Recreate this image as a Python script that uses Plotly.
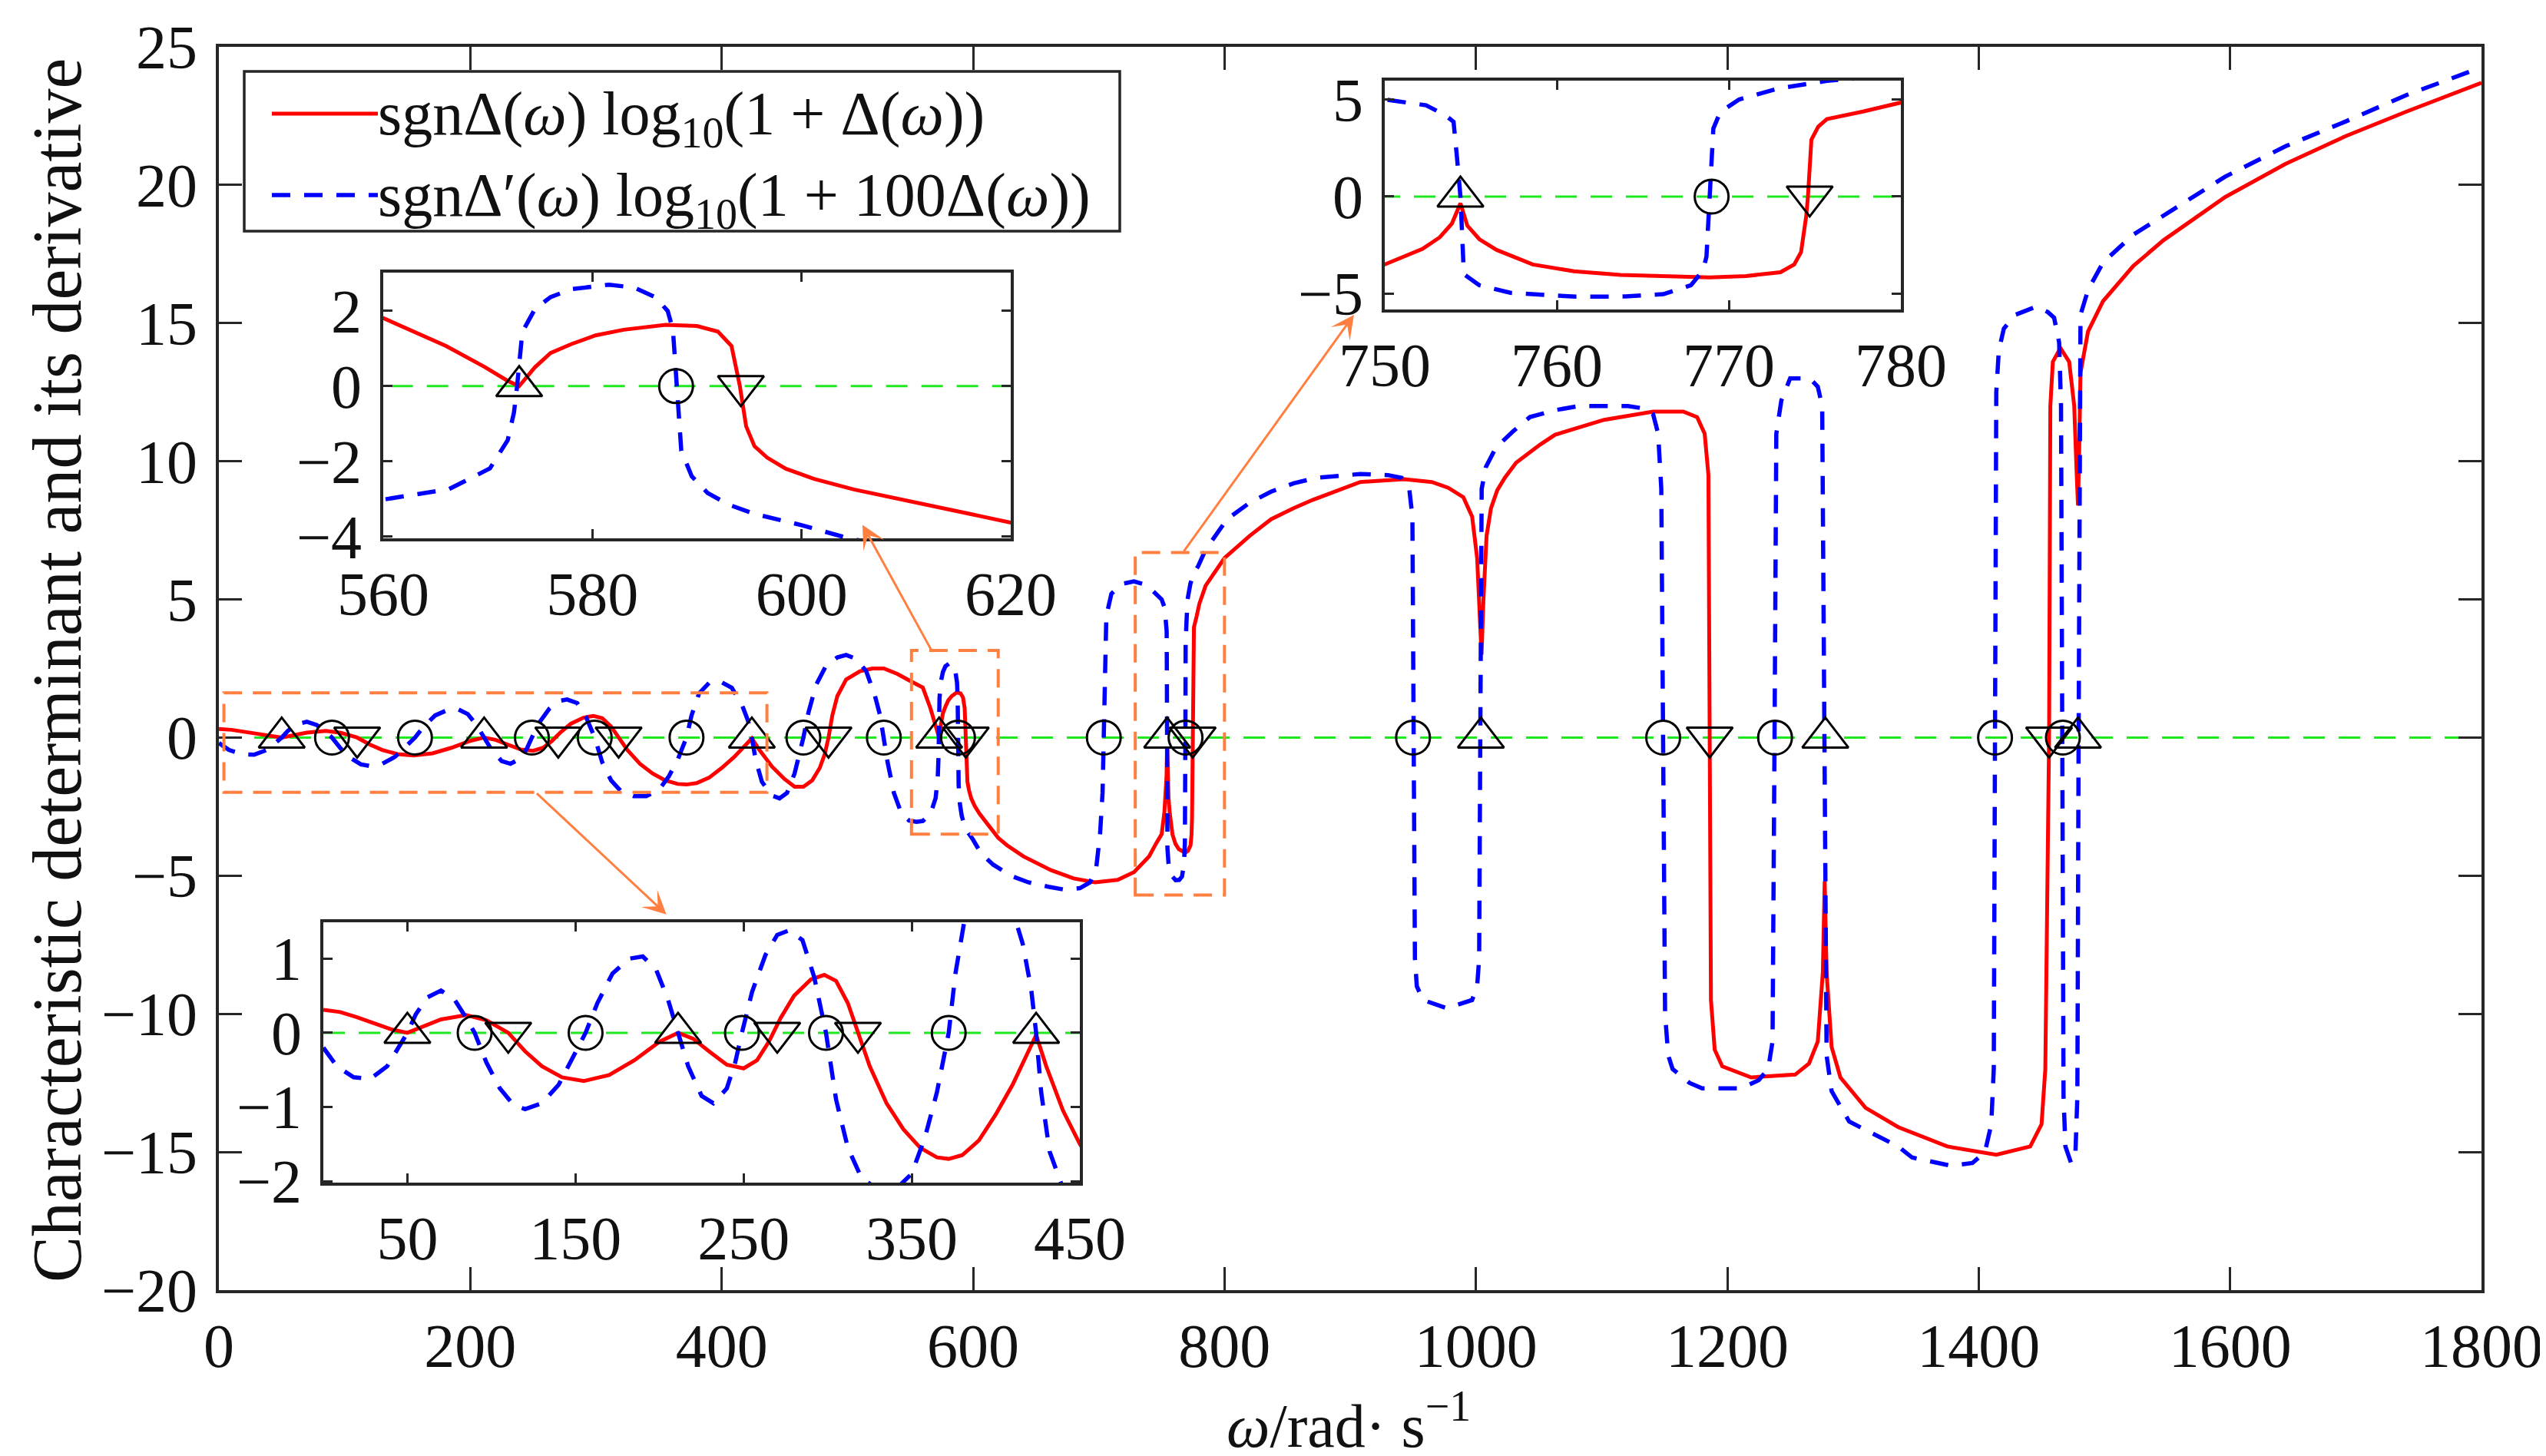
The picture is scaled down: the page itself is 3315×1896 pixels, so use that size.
import plotly.graph_objects as go

# red solid: sgn(Delta) log10(1 + Delta)
red_w = [0, 10, 20, 30, 40, 50, 60, 70, 85, 97,
         110, 120, 130, 142, 155, 170, 185, 200, 211, 220,
         230, 240, 250, 258, 265, 272, 280, 290, 298, 305,
         312, 318, 325, 335, 345, 355, 365, 372, 380, 390,
         400, 410, 418, 424, 430, 440, 450, 458, 465, 472,
         478, 482, 485, 488, 492, 499, 510, 520, 529, 540,
         550, 560, 566, 569.7, 571.9, 573, 574.5, 576, 578, 580.3,
         583, 587, 590, 592, 593.3, 594.1, 594.7, 595.5, 596.7, 598.5,
         601.2, 605, 609.6, 615, 620, 627, 640, 662, 680, 697,
         715, 728, 740, 746, 750, 752.2, 753.2, 753.9, 754.4, 754.8,
         755.5, 756.5, 758.6, 761, 763.7, 768.9, 771, 773, 773.8, 774.2,
         774.5, 774.6, 774.8, 775.2, 775.7, 777.8, 780, 785, 800, 820,
         837, 855, 870, 908, 943, 965, 978, 990, 997, 1001,
         1003, 1004.5, 1006, 1008.5, 1012, 1017, 1023, 1032, 1051, 1063,
         1102, 1141, 1165, 1176, 1182, 1185, 1186, 1187, 1190, 1196,
         1219, 1254, 1265, 1272, 1276, 1277.5, 1279, 1283, 1290, 1310,
         1336, 1375, 1414, 1441, 1450, 1453, 1456, 1457, 1459, 1465,
         1472, 1476, 1478, 1479, 1480, 1481, 1487, 1499, 1523, 1547,
         1596, 1644, 1692, 1740, 1800]
red_v = [0.31, 0.28, 0.21, 0.13, 0.05, 0.0, 0.09, 0.18, 0.24, 0.17,
         0.0, -0.25, -0.45, -0.6, -0.65, -0.57, -0.37, -0.12, 0.0, -0.08,
         -0.26, -0.43, -0.48, -0.37, -0.12, 0.2, 0.5, 0.72, 0.78, 0.7,
         0.4, 0.0, -0.45, -0.95, -1.3, -1.55, -1.68, -1.7, -1.65, -1.45,
         -1.1, -0.7, -0.3, -0.03, -0.45, -1.05, -1.5, -1.78, -1.78, -1.55,
         -1.1, -0.6, 0.0, 0.8, 1.5, 2.1, 2.4, 2.5, 2.5, 2.3,
         2.05, 1.81, 1.07, 0.51, 0.14, 0.0, 0.5, 0.88, 1.12, 1.35,
         1.5, 1.63, 1.6, 1.45, 1.07, 0.0, -1.07, -1.6, -1.9, -2.2,
         -2.47, -2.75, -3.02, -3.33, -3.63, -3.9, -4.3, -4.8, -5.1, -5.24,
         -5.15, -4.87, -4.3, -3.8, -3.5, -2.7, -2.1, -1.4, -0.35, -1.5,
         -2.2, -2.75, -3.5, -3.85, -4.04, -4.17, -4.1, -3.9, -3.5, -2.86,
         -1.0, 0.0, 2.93, 3.6, 3.99, 4.38, 4.84, 5.5, 6.5, 7.3,
         7.9, 8.3, 8.6, 9.25, 9.35, 9.25, 9.04, 8.7, 8.0, 6.5,
         4.5, 3.0, 5.0, 7.3, 8.3, 8.95, 9.4, 9.95, 10.6, 10.96,
         11.5, 11.8, 11.8, 11.6, 11.0, 9.5, 0.0, -9.5, -11.3, -11.9,
         -12.3, -12.2, -11.8, -11.0, -8.5, -5.2, -8.5, -11.2, -12.3, -13.4,
         -14.1, -14.8, -15.1, -14.8, -14.0, -12.0, 0.0, 12.0, 13.6, 14.1,
         13.6, 12.0, 9.5, 8.4, 10.5, 13.2, 14.7, 15.8, 17.07, 18.0,
         19.56, 20.76, 21.77, 22.65, 23.7]

# blue dashed: sgn(Delta') log10(1 + 100 Delta)
blue_w = [0, 8, 18, 28, 38, 45, 50, 55, 62, 70,
          78, 85, 90, 97, 105, 113, 120, 130, 140, 148,
          156, 163, 172, 182, 190, 198, 205, 211, 217, 225,
          232, 240, 245, 249, 255, 263, 270, 277, 285, 292,
          299, 305, 312, 320, 330, 340, 350, 358, 365, 372,
          376, 382, 390, 398, 408, 416, 421, 424, 427, 432,
          440, 446, 452, 458, 462, 465, 469, 475, 483, 492,
          499, 507, 515, 522, 526, 529, 532, 537, 543, 549,
          555, 560, 566.3, 570.2, 571.9, 572.5, 572.8, 573.3, 574.5, 576,
          578, 581.6, 584, 586, 587.2, 587.7, 588.1, 588.5, 589.5, 591,
          593, 595.5, 600, 604.5, 610, 616, 630, 644, 660, 672,
          685, 693, 698, 701, 703, 704, 705, 706, 710, 718,
          728, 735, 742, 750, 752.4, 753.5, 754, 754.2, 754.4, 754.6,
          755.5, 757.3, 761.1, 764, 766.2, 767.8, 768.5, 768.7, 768.9, 769.1,
          769.5, 770.6, 772.9, 775.7, 779, 785, 802, 820, 837, 855,
          873, 908, 930, 941, 947, 949.5, 950.5, 951.5, 953, 958,
          977, 997, 1001, 1002.6, 1003.5, 1004.6, 1008, 1016, 1030, 1043,
          1063, 1082, 1121, 1135, 1141, 1145, 1147.5, 1149, 1150.5, 1153,
          1156.5, 1170, 1180, 1211, 1225, 1232.5, 1236, 1237.6, 1239, 1243,
          1250, 1265.7, 1272, 1275.5, 1277.4, 1279, 1283, 1297, 1336, 1347,
          1378, 1395, 1405, 1410, 1412, 1413, 1414, 1416, 1420, 1429,
          1446, 1455, 1460, 1464, 1465.5, 1466.5, 1467.5, 1469, 1473.5, 1477,
          1478.5, 1479.5, 1480.5, 1481, 1487, 1499, 1523, 1547, 1596, 1644,
          1692, 1740, 1800]
blue_v = [-0.2, -0.45, -0.6, -0.62, -0.45, -0.2, 0.0, 0.25, 0.48, 0.57,
          0.45, 0.2, 0.0, -0.4, -0.75, -0.97, -1.03, -0.95, -0.7, -0.35,
          0.0, 0.4, 0.8, 1.0, 1.03, 0.85, 0.45, 0.0, -0.45, -0.85,
          -0.95, -0.75, -0.4, 0.0, 0.55, 1.05, 1.32, 1.38, 1.25, 0.75,
          0.0, -0.9, -1.55, -1.95, -2.12, -2.12, -1.9, -1.4, -0.8, 0.0,
          0.8, 1.6, 1.98, 2.05, 1.8, 1.2, 0.6, 0.0, -0.8, -1.6,
          -2.1, -2.2, -2.0, -1.3, -0.6, 0.0, 0.9, 1.9, 2.6, 2.9,
          2.99, 2.85, 2.4, 1.5, 0.8, 0.0, -0.9, -2.0, -2.75, -3.0,
          -3.05, -3.02, -2.74, -2.19, -1.44, -0.7, 0.0, 1.44, 2.05, 2.37,
          2.58, 2.7, 2.62, 2.37, 2.0, 1.5, 0.0, -1.72, -2.4, -2.84,
          -3.15, -3.4, -3.7, -4.05, -4.35, -4.6, -5.0, -5.24, -5.4, -5.5,
          -5.45, -5.24, -4.7, -3.5, -2.0, 0.0, 3.0, 4.4, 5.2, 5.56,
          5.65, 5.56, 5.35, 5.0, 4.7, 4.2, 3.85, 2.0, 0.0, -4.0,
          -4.57, -4.96, -5.16, -5.15, -5.03, -4.57, -3.8, -3.1, 0.0, 3.5,
          4.35, 5.0, 5.57, 5.96, 6.2, 6.8, 7.9, 8.5, 8.9, 9.2,
          9.4, 9.54, 9.5, 9.4, 9.0, 8.0, 0.0, -8.0, -9.0, -9.5,
          -9.8, -9.5, -9.0, -8.0, 0.0, 9.0, 9.8, 10.5, 11.1, 11.6,
          11.85, 12.0, 12.0, 11.9, 11.7, 11.0, 9.0, 0.0, -10.0, -11.5,
          -12.0, -12.5, -12.7, -12.7, -12.4, -12.0, -11.0, 0.0, 11.0, 12.2,
          13.0, 13.0, 12.7, 12.0, 0.0, -11.5, -12.8, -13.9, -14.8, -15.2,
          -15.5, -15.4, -15.0, -14.0, -12.0, 0.0, 12.5, 14.0, 14.8, 15.3,
          15.6, 15.4, 15.2, 14.3, 12.0, 0.0, -13.0, -14.8, -15.4, -15.0,
          -13.0, 0.0, 13.0, 15.3, 16.2, 17.2, 18.2, 18.9, 20.3, 21.4,
          22.3, 23.25, 24.26]

# marked frequencies (all sit on the zero line)
circle_w = [90, 156, 249, 299, 372, 465, 529, 588, 704, 769, 950, 1149, 1238, 1413, 1467]
tri_up_w = [50, 211, 424, 573, 754.4, 1004, 1278, 1479]
tri_down_w = [110, 270, 318, 485, 594.2, 774.7, 1186, 1456]

assert len(red_w) == len(red_v)
assert len(blue_w) == len(blue_v)

W, H = 3315, 1896
FONT = "Liberation Serif"
INK = "#262626"
ORANGE = "#FF7F40"


def dom_x(a, b):
    return [a / W, b / W]


def dom_y(top, bottom):
    return [1 - bottom / H, 1 - top / H]


def axis(domain, rng, tickvals, ticklen, anchor, standoff):
    return dict(domain=domain, range=rng, tickvals=tickvals, anchor=anchor,
                ticks="inside", ticklen=ticklen, tickwidth=3, tickcolor=INK,
                showline=True, linewidth=4, linecolor=INK, mirror="ticks",
                showgrid=False, zeroline=False, fixedrange=True, automargin=False,
                tickfont=dict(family=FONT, size=80, color="#111111"),
                ticklabelstandoff=standoff)


fig = go.Figure()

panels = [("x", "y"), ("x2", "y2"), ("x3", "y3"), ("x4", "y4")]
for xa, ya in panels:
    fig.add_trace(go.Scatter(x=[0, 1800], y=[0, 0], mode="lines", xaxis=xa, yaxis=ya,
                             line=dict(color="#1EE81E", width=3, dash="28px,18px")))
    fig.add_trace(go.Scatter(x=red_w, y=red_v, mode="lines", xaxis=xa, yaxis=ya,
                             line=dict(color="#FF0000", width=5)))
    fig.add_trace(go.Scatter(x=blue_w, y=blue_v, mode="lines", xaxis=xa, yaxis=ya,
                             line=dict(color="#0000FF", width=5.5, dash="24px,18px")))
    for pts, sym, sz in [(circle_w, "circle-open", 44),
                         (tri_up_w, "triangle-up-open", 52),
                         (tri_down_w, "triangle-down-open", 52)]:
        fig.add_trace(go.Scatter(x=pts, y=[0] * len(pts), mode="markers", xaxis=xa, yaxis=ya,
                                 marker=dict(symbol=sym, size=sz, color="black",
                                             line=dict(width=3, color="black"))))

layout_axes = dict(
    xaxis=axis(dom_x(277, 3223), [0, 1800], list(range(0, 1801, 200)), 30, "y", 0),
    yaxis=axis(dom_y(53, 1672), [-20, 25], list(range(-20, 26, 5)), 30, "x", 8),
    xaxis2=axis(dom_x(413, 1398), [0, 450], [50, 150, 250, 350, 450], 12, "y2", 0),
    yaxis2=axis(dom_y(1193, 1532), [-2.02, 1.49], [-2, -1, 0, 1], 12, "x2", 8),
    xaxis3=axis(dom_x(491, 1308), [560, 620], [560, 580, 600, 620], 12, "y3", 0),
    yaxis3=axis(dom_y(347, 693), [-4.05, 3.02], [-4, -2, 0, 2], 12, "x3", 8),
    xaxis4=axis(dom_x(1795, 2467), [750, 780], [750, 760, 770, 780], 12, "y4", 0),
    yaxis4=axis(dom_y(97, 395), [-5.82, 5.97], [-5, 0, 5], 12, "x4", 8),
)

# dashed orange boxes marking the zoomed regions
boxes = [(4, 436, -1.98, 1.62), (551, 620, -3.5, 3.15), (729, 800, -5.7, 6.7)]
shapes = []
for x0, x1, y0, y1 in boxes:
    shapes.append(dict(type="rect", xref="x", yref="y", x0=x0, x1=x1, y0=y0, y1=y1,
                       line=dict(color=ORANGE, width=4, dash="24px,14px"), layer="above"))

# hand-drawn legend
shapes.append(dict(type="rect", xref="paper", yref="paper",
                   x0=310 / W, x1=1450 / W, y0=1 - 293 / H, y1=1 - 85 / H,
                   line=dict(color=INK, width=3.5), fillcolor="white", layer="above"))
shapes.append(dict(type="line", xref="paper", yref="paper",
                   x0=346 / W, x1=484 / W, y0=1 - 140 / H, y1=1 - 140 / H,
                   line=dict(color="#FF0000", width=5), layer="above"))
shapes.append(dict(type="line", xref="paper", yref="paper",
                   x0=346 / W, x1=484 / W, y0=1 - 246 / H, y1=1 - 246 / H,
                   line=dict(color="#0000FF", width=5.5, dash="24px,18px"), layer="above"))

text_font = dict(family=FONT, size=80, color="#111111")
annotations = [
    dict(text="sgnΔ(<i>ω</i>) log<sub>10</sub>(1 + Δ(<i>ω</i>))", xref="paper", yref="paper",
         x=482 / W, y=1 - 146 / H, xanchor="left", yanchor="middle", showarrow=False,
         font=text_font),
    dict(text="sgnΔ′(<i>ω</i>) log<sub>10</sub>(1 + 100Δ(<i>ω</i>))", xref="paper", yref="paper",
         x=482 / W, y=1 - 252 / H, xanchor="left", yanchor="middle", showarrow=False,
         font=text_font),
    dict(text="<i>ω</i>/rad· s<sup>−1</sup>", xref="paper", yref="paper",
         x=1748 / W, y=1 - 1895 / H, xanchor="center", yanchor="bottom", showarrow=False,
         font=text_font),
    dict(text="Characteristic determinant and its derivative", xref="paper", yref="paper",
         x=66 / W, y=1 - 865 / H, xanchor="center", yanchor="middle", showarrow=False,
         textangle=-90, font=dict(family=FONT, size=90, color="#111111")),
]

# arrows from the boxes to the insets (tip, tail in data units)
arrows = [((356, -6.4), (252, -1.98)), ((512, 7.7), (567, 3.15)), ((903, 15.3), (767, 6.7))]
for (tx, ty), (sx, sy) in arrows:
    annotations.append(dict(x=tx, y=ty, ax=sx, ay=sy, xref="x", yref="y", axref="x", ayref="y",
                            text="", showarrow=True, arrowhead=3, arrowsize=1.7,
                            arrowwidth=3, arrowcolor=ORANGE))

fig.update_layout(
    width=W, height=H,
    margin=dict(l=0, r=0, t=0, b=0, autoexpand=False),
    paper_bgcolor="white", plot_bgcolor="white",
    showlegend=False,
    shapes=shapes, annotations=annotations,
    **layout_axes,
)

fig.write_html("out.html")
